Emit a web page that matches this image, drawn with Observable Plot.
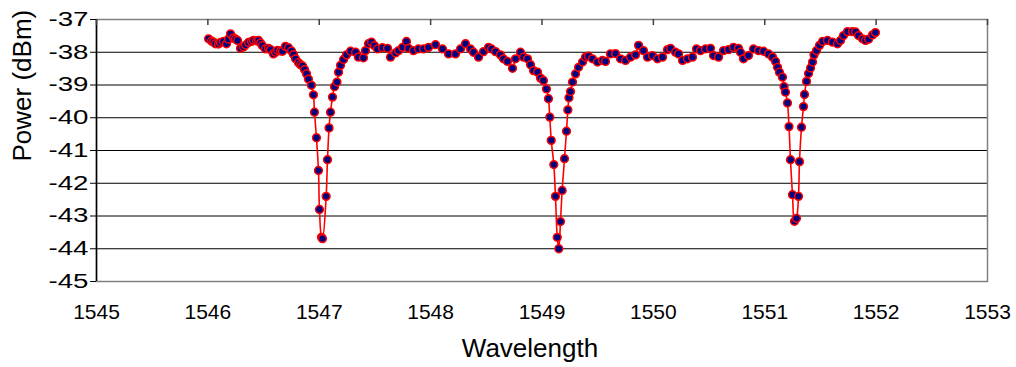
<!DOCTYPE html>
<html>
<head>
<meta charset="utf-8">
<script src="https://cdn.jsdelivr.net/npm/d3@7"></script>
<script src="https://cdn.jsdelivr.net/npm/@observablehq/plot@0.6"></script>
<style>
  html, body { margin: 0; padding: 0; background: #ffffff; }
  #chart { width: 1016px; height: 367px; }
</style>
</head>
<body>
<div id="chart"></div>
<script>
const wavelength = [
  1546.006,1546.033,1546.051,1546.068,1546.095,1546.113,1546.140,1546.167,1546.185,1546.203,
  1546.230,1546.248,1546.266,1546.293,1546.320,1546.338,1546.365,1546.392,1546.410,1546.437,
  1546.455,1546.473,1546.490,1546.517,1546.544,1546.562,1546.589,1546.607,1546.625,1546.652,
  1546.670,1546.697,1546.724,1546.751,1546.769,1546.787,1546.814,1546.832,1546.850,1546.868,
  1546.886,1546.903,1546.930,1546.948,1546.957,1546.975,1546.993,1547.002,1547.020,1547.029,
  1547.062,1547.074,1547.088,1547.101,1547.119,1547.137,1547.159,1547.173,1547.191,1547.218,
  1547.245,1547.281,1547.326,1547.352,1547.397,1547.415,1547.442,1547.469,1547.496,1547.523,
  1547.568,1547.613,1547.640,1547.685,1547.712,1547.748,1547.783,1547.801,1547.846,1547.891,
  1547.936,1547.981,1548.044,1548.107,1548.161,1548.223,1548.268,1548.313,1548.358,1548.385,
  1548.430,1548.475,1548.520,1548.547,1548.583,1548.627,1548.654,1548.690,1548.735,1548.762,
  1548.807,1548.834,1548.870,1548.897,1548.924,1548.960,1548.987,1549.013,1549.040,1549.058,
  1549.070,1549.083,1549.106,1549.121,1549.137,1549.151,1549.166,1549.181,1549.202,1549.220,
  1549.232,1549.242,1549.256,1549.274,1549.301,1549.328,1549.364,1549.391,1549.418,1549.453,
  1549.498,1549.543,1549.570,1549.615,1549.660,1549.705,1549.750,1549.795,1549.840,1549.867,
  1549.911,1549.947,1549.992,1550.037,1550.082,1550.127,1550.154,1550.199,1550.226,1550.262,
  1550.306,1550.351,1550.387,1550.423,1550.468,1550.513,1550.540,1550.585,1550.630,1550.675,
  1550.719,1550.764,1550.782,1550.809,1550.854,1550.899,1550.944,1550.989,1551.034,1551.070,
  1551.097,1551.115,1551.132,1551.159,1551.173,1551.186,1551.204,1551.218,1551.231,1551.249,
  1551.267,1551.285,1551.303,1551.312,1551.330,1551.348,1551.357,1551.375,1551.393,1551.411,
  1551.429,1551.442,1551.465,1551.492,1551.519,1551.563,1551.608,1551.653,1551.680,1551.707,
  1551.743,1551.788,1551.815,1551.842,1551.878,1551.905,1551.932,1551.968,1551.994
];
const power = [
  -37.59,-37.66,-37.69,-37.74,-37.75,-37.70,-37.67,-37.74,-37.60,-37.44,
  -37.56,-37.60,-37.64,-37.88,-37.84,-37.78,-37.70,-37.67,-37.64,-37.65,
  -37.64,-37.72,-37.80,-37.90,-37.88,-37.92,-38.05,-38.00,-37.94,-37.96,
  -37.97,-37.82,-37.86,-37.96,-38.07,-38.20,-38.32,-38.38,-38.42,-38.53,
  -38.66,-38.82,-39.01,-39.30,-39.83,-40.61,-41.61,-42.80,-43.65,-43.69,
  -42.40,-41.28,-40.31,-39.83,-39.37,-39.05,-38.91,-38.61,-38.40,-38.22,
  -38.08,-37.97,-38.00,-38.15,-38.17,-37.95,-37.74,-37.69,-37.80,-37.90,
  -37.86,-37.88,-38.15,-38.02,-37.95,-37.85,-37.67,-37.88,-37.95,-37.90,
  -37.90,-37.85,-37.77,-37.90,-38.05,-38.05,-37.90,-37.74,-37.90,-38.00,
  -38.15,-37.98,-37.85,-37.90,-37.98,-38.08,-38.20,-38.28,-38.49,-38.20,
  -38.00,-38.15,-38.20,-38.38,-38.56,-38.61,-38.79,-38.86,-39.12,-39.42,
  -39.98,-40.69,-41.43,-42.40,-43.65,-44.00,-43.17,-42.22,-41.25,-40.41,
  -39.76,-39.39,-39.20,-38.91,-38.66,-38.46,-38.30,-38.15,-38.12,-38.20,
  -38.30,-38.25,-38.28,-38.05,-38.04,-38.20,-38.25,-38.15,-38.08,-37.79,
  -37.95,-38.15,-38.10,-38.20,-38.15,-37.92,-37.88,-38.00,-38.05,-38.25,
  -38.20,-38.15,-37.90,-37.95,-37.90,-37.88,-38.10,-38.15,-37.95,-37.92,
  -37.85,-37.88,-38.00,-38.20,-38.10,-37.90,-37.95,-37.97,-38.05,-38.15,
  -38.28,-38.46,-38.61,-38.76,-39.05,-39.22,-39.55,-40.27,-41.28,-42.35,
  -43.16,-43.07,-42.40,-41.34,-40.29,-39.66,-39.29,-38.89,-38.65,-38.48,
  -38.30,-38.08,-37.95,-37.79,-37.67,-37.64,-37.69,-37.74,-37.64,-37.49,
  -37.37,-37.37,-37.38,-37.49,-37.59,-37.64,-37.60,-37.47,-37.40
];
const xTicks = [1545,1546,1547,1548,1549,1550,1551,1552,1553];
const yTicks = [-45,-44,-43,-42,-41,-40,-39,-38,-37];
const gridValues = [-44,-43,-42,-41,-40,-39,-38];
const xTitle = "Wavelength";
const yTitle = "Power (dBm)";

const data = wavelength.map((w, i) => ({w, p: power[i]}));

const chart = Plot.plot({
  width: 1016,
  height: 367,
  marginLeft: 96,
  marginRight: 29,
  marginTop: 19,
  marginBottom: 86,
  style: {fontFamily: "'Liberation Sans', Arial, sans-serif", background: "#ffffff", color: "#000"},
  x: {domain: [1545, 1553]},
  y: {domain: [-45, -37]},
  marks: [
    Plot.gridY(gridValues, {stroke: "#000", strokeOpacity: 1, strokeWidth: 1}),
    Plot.frame({stroke: "#808080", strokeWidth: 1.5}),
    Plot.ruleX([1545], {stroke: "#000", strokeWidth: 1.5}),
    Plot.tickX(xTicks, {x: d => d, stroke: "#404040", strokeWidth: 1.5, insetBottom: 256}),
    Plot.axisY(yTicks, {tickSize: 6, tickPadding: 2, fontSize: 20, label: null, stroke: "#000", strokeWidth: 1,
      tickFormat: d => String(d)}),
    Plot.axisX(xTicks, {tickSize: 0, tickPadding: 23, fontSize: 21, label: null, tickFormat: d => String(d)}),
    Plot.line(data, {x: "w", y: "p", stroke: "#ff0000", strokeWidth: 1.6, curve: "catmull-rom"}),
    Plot.dot(data, {x: "w", y: "p", r: 3.9, fill: "#000080", stroke: "#ff0000", strokeWidth: 1.5}),
    Plot.text([yTitle], {frameAnchor: "left", rotate: -90, dx: -74, dy: 11, fontSize: 26, fill: "#000"}),
    Plot.text([xTitle], {frameAnchor: "bottom", dx: -12, dy: 75, fontSize: 26, fill: "#000"})
  ]
});

d3.select(chart).selectAll("[aria-label='y-axis tick label'] text")
  .attr("textLength", 40).attr("lengthAdjust", "spacingAndGlyphs");

document.getElementById("chart").appendChild(chart);
</script>
</body>
</html>
